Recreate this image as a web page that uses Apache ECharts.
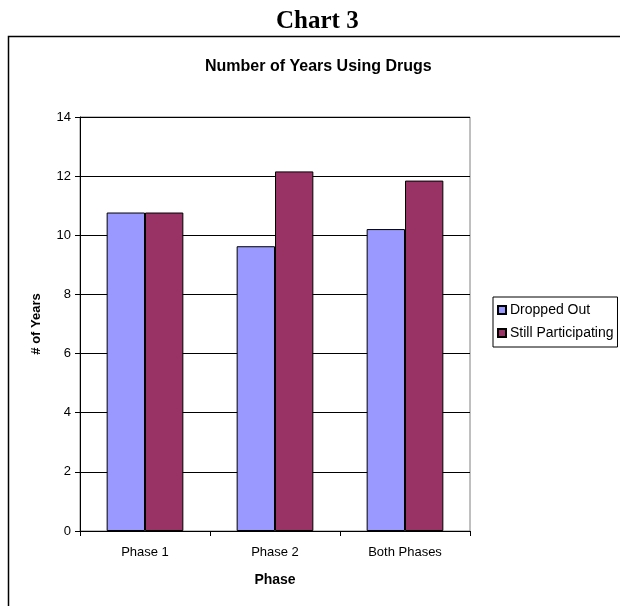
<!DOCTYPE html>
<html><head><meta charset="utf-8">
<script src="https://cdn.jsdelivr.net/npm/echarts@6/dist/echarts.min.js"></script>
<style>html,body{margin:0;padding:0;background:#fff}#c{width:620px;height:606px}</style>
</head><body><div id="c"></div>
<script>
const categories = ['Phase 1', 'Phase 2', 'Both Phases'];
const droppedOut = [10.77, 9.63, 10.21];
const stillParticipating = [10.77, 12.16, 11.85];
const seriesNames = ['Dropped Out', 'Still Participating'];
const yTicks = {min: 0, max: 14, interval: 2};

const chart = echarts.init(document.getElementById('c'), null, {renderer: 'canvas'});
const sans = 'Liberation Sans, Arial, sans-serif';
chart.setOption({
  animation: false,
  backgroundColor: '#fff',
  title: [
    {text: 'Chart 3', left: 271, top: 4, textStyle: {fontFamily: 'Liberation Serif, Times New Roman, serif', fontSize: 25, fontWeight: 'bold', color: '#000'}},
    {text: 'Number of Years Using Drugs', left: 200, top: 54, textStyle: {fontFamily: sans, fontSize: 16, fontWeight: 'bold', color: '#000'}}
  ],
  graphic: [
    {type: 'rect', shape: {x: 8.5, y: 36.5, width: 640, height: 600}, style: {fill: 'none', stroke: '#000', lineWidth: 1.5}, silent: true}
  ],
  legend: {
    orient: 'vertical', left: 493, top: 297,
    data: seriesNames,
    icon: 'rect', itemWidth: 8, itemHeight: 8, itemGap: 9,
    borderColor: '#000', borderWidth: 1, padding: [6, 4, 7, 4],
    textStyle: {fontFamily: sans, fontSize: 14, color: '#000', padding: [0,0,0,-1]}
  },
  grid: {left: 80, right: 150, top: 117, bottom: 75, show: true, borderColor: '#808080', borderWidth: 1},
  xAxis: {
    type: 'category', data: categories,
    axisLine: {lineStyle: {color: '#000'}},
    axisTick: {show: true, length: 5, lineStyle: {color: '#000'}},
    axisLabel: {fontFamily: sans, fontSize: 13, color: '#000', margin: 15},
    name: 'Phase', nameLocation: 'middle', nameGap: 42,
    nameTextStyle: {fontFamily: sans, fontSize: 14, fontWeight: 'bold', color: '#000'}
  },
  yAxis: {
    type: 'value', min: yTicks.min, max: yTicks.max, interval: yTicks.interval,
    axisLine: {show: true, lineStyle: {color: '#000'}},
    axisTick: {show: true, length: 5, lineStyle: {color: '#000'}},
    splitLine: {lineStyle: {color: '#000', width: 1}},
    axisLabel: {fontFamily: sans, fontSize: 13, color: '#000', margin: 9},
    name: '# of Years', nameLocation: 'middle', nameGap: 37, nameRotate: 90,
    nameTextStyle: {fontFamily: sans, fontSize: 13, fontWeight: 'bold', color: '#000'}
  },
  series: [
    {name: seriesNames[0], type: 'bar', data: droppedOut, barGap: '0%', barCategoryGap: '41%',
     itemStyle: {color: '#9999FF', borderColor: '#000', borderWidth: 1}},
    {name: seriesNames[1], type: 'bar', data: stillParticipating, barGap: '0%', barCategoryGap: '41%',
     itemStyle: {color: '#993366', borderColor: '#000', borderWidth: 1}}
  ]
});
</script></body></html>
